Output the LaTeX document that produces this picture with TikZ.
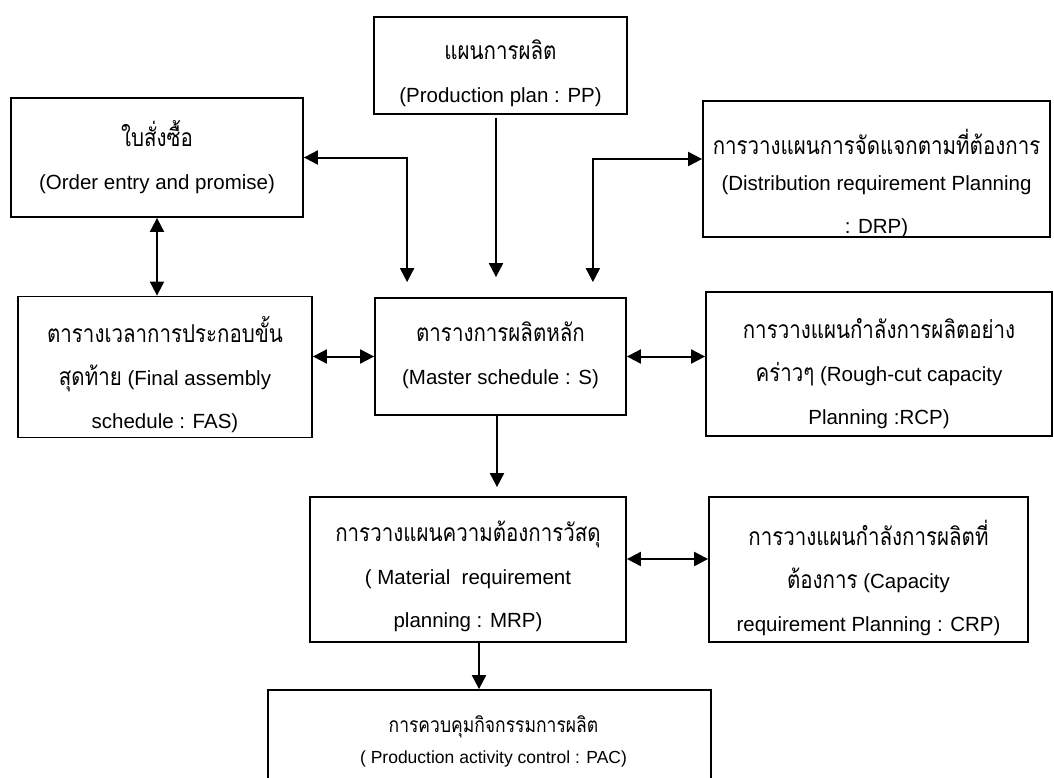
\documentclass[tikz,border=0pt]{standalone}
\usepackage{fontspec}
\setmainfont{Liberation Sans}
\newfontfamily\thai[Script=Thai]{Loma}
% Thai words, set a little taller than the font's natural proportions
\newcommand\thaiword[1]{\scalebox{1}[1.2]{\thai #1}}
\usetikzlibrary{arrows.meta,calc}

\begin{document}
\begin{tikzpicture}[x=1pt,y=-1pt,
  box/.style args={#1x#2}{draw, line width=1.8pt, inner sep=0pt,
    minimum width=#1pt, minimum height=#2pt},
  txt/.style={align=center, inner sep=0pt,
    font=\fontsize{20.5}{43}\selectfont},
  smalltxt/.style={align=center, inner sep=0pt,
    font=\fontsize{17.5}{31}\selectfont},
  tip/.tip={Triangle[length=14pt,width=14pt]},
  arr/.style={line width=2pt, -tip},
  dbl/.style={line width=2pt, tip-tip}]

\useasboundingbox (0,0) rectangle (1054,777);
\clip (0,0) rectangle (1054,777);

% boxes
\node[box=253x97]  (pp)  at (500.5,65.5) {};
\node[box=292x119] (ord) at (157,157.5)  {};
\node[box=347x136] (drp) at (876.5,169)  {};
\node[box=294x141] (fas) at (165,367)    {};
\node[box=251x117] (ms)  at (500.5,356.5) {};
\node[box=346x144] (rcp) at (879,364)    {};
\node[box=316x145] (mrp) at (468,569.5)  {};
\node[box=319x145] (crp) at (868.5,569.5) {};
\node[box=443x110] (pac) at (489.5,745)  {};

% box texts
\node[txt] (pp-t)  at ($(pp.center)+(0,8)$)
  {\thaiword{แผนการผลิต}\\(Production plan : PP)};
\node[txt] (ord-t) at (ord.center)
  {\thaiword{ใบสั่งซื้อ}\\(Order entry and promise)};
\node[txt] (drp-t) at ($(drp.center)+(0,14)$)
  {\thaiword{การวางแผนการจัดแจกตามที่ต้องการ}\\[-7pt](Distribution requirement Planning\\: DRP)};
\node[txt] (fas-t) at ($(fas.center)+(0,8)$)
  {\thaiword{ตารางเวลาการประกอบขั้น}\\\thaiword{สุดท้าย} (Final assembly\\schedule : FAS)};
\node[txt] (ms-t)  at ($(ms.center)+(0,-1)$)
  {\thaiword{ตารางการผลิตหลัก}\\(Master schedule : S)};
\node[txt] (rcp-t) at ($(rcp.center)+(0,10)$)
  {\thaiword{การวางแผนกำลังการผลิตอย่าง}\\\thaiword{คร่าวๆ} (Rough-cut capacity\\Planning :RCP)};
\node[txt] (mrp-t) at ($(mrp.center)+(0,7)$)
  {\thaiword{การวางแผนความต้องการวัสดุ}\\( Material\ \ requirement\\planning : MRP)};
\node[txt] (crp-t) at ($(crp.center)+(0,8)$)
  {\thaiword{การวางแผนกำลังการผลิตที่}\\\thaiword{ต้องการ} (Capacity\\requirement Planning : CRP)};
\node[smalltxt] (pac-t) at ($(pac.center)+(4,-4)$)
  {\thaiword{การควบคุมกิจกรรมการผลิต}\\( Production activity control : PAC)};

% connectors
\draw[dbl] (ord.south) -- (ord.south |- fas.north);
\draw[dbl, shorten >=15pt] (ord.east) -| ($(ms.north west)+(33,0)$);
\draw[arr, shorten <=3pt, shorten >=20pt]
  ($(pp.south)+(-4.5,0)$) -- ($(ms.north -| pp.south)+(-4.5,0)$);
\draw[dbl, shorten <=15pt]
  ($(ms.north east)+(-34,0)$) |- ($(drp.west)+(0,-10)$);
\draw[dbl] (fas.east |- ms.west) -- (ms.west);
\draw[dbl] (ms.east) -- (ms.east -| rcp.west);
\draw[arr, shorten >=9pt]
  ($(ms.south)+(-3.5,0)$) -- ($(mrp.north -| ms.south)+(-3.5,0)$);
\draw[dbl] ($(mrp.east)+(0,-10.5)$) -- ($(crp.west |- mrp.east)+(0,-10.5)$);
\draw[arr] ($(mrp.south)+(11,0)$) -- ($(pac.north -| mrp.south)+(11,0)$);
\end{tikzpicture}
\end{document}
